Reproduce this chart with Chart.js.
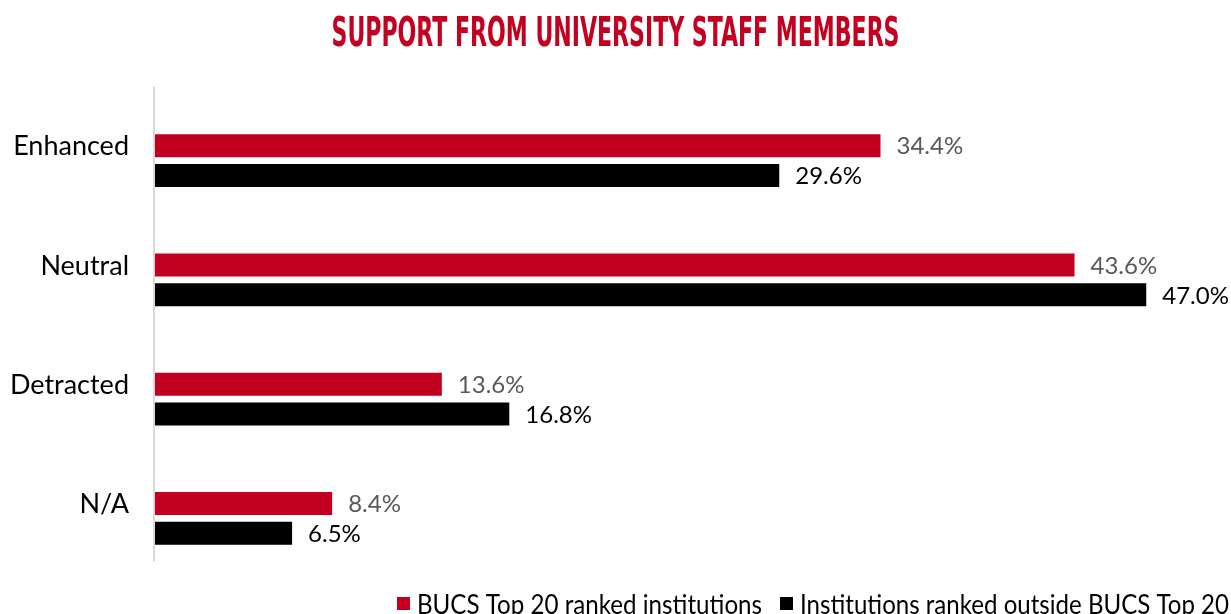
<!DOCTYPE html>
<html>
<head>
<meta charset="utf-8">
<title>Support from university staff members</title>
<script src="https://cdn.jsdelivr.net/npm/chart.js@4.4.1/dist/chart.umd.min.js"></script>
<style>
  html, body { margin: 0; padding: 0; background: #ffffff; overflow: hidden; }
  #wrap { position: absolute; left: 0; top: 0; width: 1231px; height: 614px; }
</style>
</head>
<body>
<div id="wrap"><canvas id="chart"></canvas></div>
<script>
// Categories and survey shares (%)
const categories = ['Enhanced', 'Neutral', 'Detracted', 'N/A'];
const top20Values = [34.4, 43.6, 13.6, 8.4];
const outsideValues = [29.6, 47.0, 16.8, 6.5];
const seriesNames = ['BUCS Top 20 ranked institutions', 'Institutions ranked outside BUCS Top 20'];
const axisMax = 50;

const RED = '#C3001F';
const BLACK = '#000000';
const chartTitle = 'SUPPORT FROM UNIVERSITY STAFF MEMBERS';

// Condensed title, squeezed to its set width
const titlePlugin = {
  id: 'condensedTitle',
  afterDraw(chart) {
    const ctx = chart.ctx;
    ctx.save();
    ctx.font = 'bold 40px "Liberation Sans Narrow", "DejaVu Sans Condensed", sans-serif';
    ctx.fillStyle = RED;
    ctx.textBaseline = 'middle';
    ctx.textAlign = 'left';
    const w = ctx.measureText(chartTitle).width;
    const target = 568;
    const cx = (chart.width) / 2;
    ctx.translate(cx - target / 2, 36);
    ctx.scale(target / w, 1);
    ctx.fillText(chartTitle, 0, 0);
    ctx.restore();
  }
};

// Vertical category axis line, sitting slightly above the bar bands
const axisLinePlugin = {
  id: 'axisLine',
  beforeDatasetsDraw(chart) {
    const ctx = chart.ctx;
    const a = chart.chartArea;
    const x0 = chart.scales.x.getPixelForValue(0) - 1;
    ctx.save();
    ctx.strokeStyle = '#D9D9D9';
    ctx.lineWidth = 2;
    ctx.beginPath();
    ctx.moveTo(x0, a.top - 15);
    ctx.lineTo(x0, a.bottom - 16);
    ctx.stroke();
    ctx.restore();
  }
};

// Percent labels at the end of each bar
const valueLabelPlugin = {
  id: 'valueLabels',
  afterDatasetsDraw(chart) {
    const ctx = chart.ctx;
    ctx.save();
    ctx.font = '24px Lato, sans-serif';
    ctx.textBaseline = 'middle';
    ctx.textAlign = 'left';
    chart.data.datasets.forEach((ds, di) => {
      const meta = chart.getDatasetMeta(di);
      ctx.fillStyle = ds.labelColor;
      meta.data.forEach((bar, i) => {
        ctx.fillText(ds.data[i].toFixed(1) + '%', bar.x + 16, bar.y + 1);
      });
    });
    ctx.restore();
  }
};

// Legend row along the bottom edge, text squeezed horizontally
const legendPlugin = {
  id: 'squeezedLegend',
  afterDraw(chart) {
    const ctx = chart.ctx;
    const items = chart.data.datasets.map(ds => ({ text: ds.label, color: ds.backgroundColor }));
    const widths = [345, 429];
    const box = 13, gapBox = 7, gapItem = 18;
    let x = 397;
    const baseline = 614;
    ctx.save();
    ctx.font = '26px Lato, sans-serif';
    ctx.textBaseline = 'alphabetic';
    ctx.textAlign = 'left';
    items.forEach((it, i) => {
      ctx.fillStyle = it.color;
      ctx.fillRect(x, 597, box, box);
      const tx = x + box + gapBox;
      const w = ctx.measureText(it.text).width;
      ctx.save();
      ctx.translate(tx, baseline);
      ctx.scale(widths[i] / w, 1);
      ctx.fillStyle = '#000000';
      ctx.fillText(it.text, 0, 0);
      ctx.restore();
      x = tx + widths[i] + gapItem;
    });
    ctx.restore();
  }
};

new Chart(document.getElementById('chart'), {
  type: 'bar',
  data: {
    labels: categories,
    datasets: [
      { label: seriesNames[0], data: top20Values, backgroundColor: RED, labelColor: '#595959',
        categoryPercentage: 0.503, barPercentage: 0.767 },
      { label: seriesNames[1], data: outsideValues, backgroundColor: BLACK, labelColor: '#000000',
        categoryPercentage: 0.503, barPercentage: 0.767 }
    ]
  },
  options: {
    indexAxis: 'y',
    responsive: true,
    maintainAspectRatio: false,
    animation: false,
    layout: { padding: { top: 101, right: 21.5, bottom: 36, left: 0 } },
    plugins: {
      legend: { display: false },
      title: { display: false },
      tooltip: { enabled: false }
    },
    scales: {
      x: { type: 'linear', min: 0, max: axisMax, display: false },
      y: {
        type: 'category',
        grid: { display: false, drawTicks: false },
        border: { display: false },
        ticks: {
          color: '#000000',
          font: { family: 'Lato, sans-serif', size: 27 },
          padding: 26,
          labelOffset: -14
        },
        afterFit(scale) {
          scale.width = 155;
          scale.paddingTop = 0;
          scale.paddingBottom = 0;
        }
      }
    }
  },
  plugins: [titlePlugin, axisLinePlugin, valueLabelPlugin, legendPlugin]
});
</script>
</body>
</html>
